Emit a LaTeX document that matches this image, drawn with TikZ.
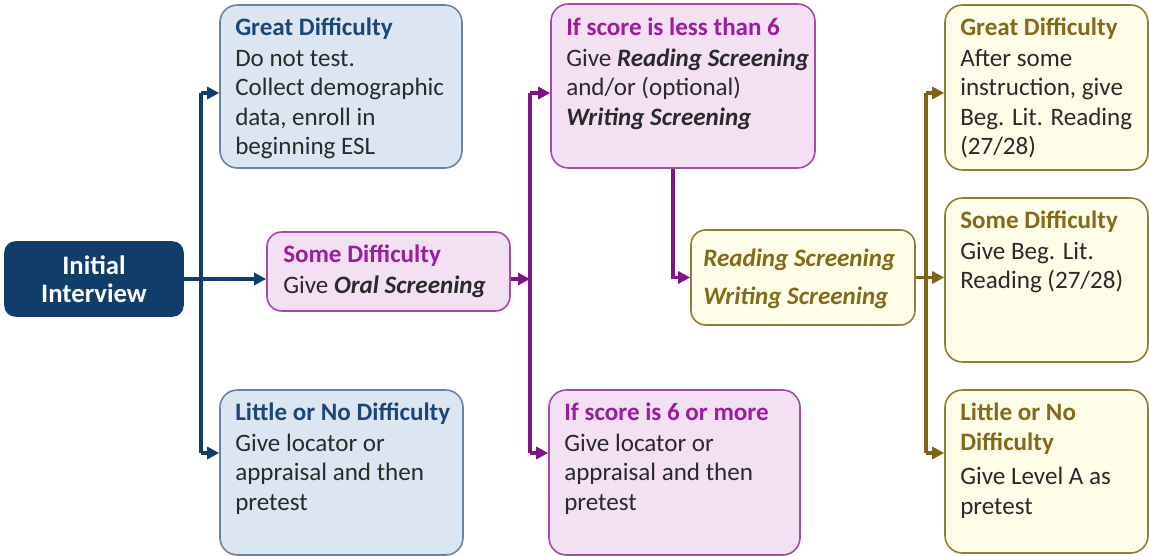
\documentclass[tikz,border=0pt]{standalone}
\usepackage{fontspec}
\setmainfont{Carlito}
\usetikzlibrary{arrows.meta,calc}
\definecolor{navy}{HTML}{113D6B}
\definecolor{navyhd}{HTML}{1B4677}
\definecolor{bluefill}{HTML}{DCE6F2}
\definecolor{blueborder}{HTML}{6A83A0}
\definecolor{pinkfill}{HTML}{F3E0F3}
\definecolor{pinkborder}{HTML}{A24BA8}
\definecolor{pinkhd}{HTML}{9C1C9E}
\definecolor{purplearr}{HTML}{7E1485}
\definecolor{yelfill}{HTML}{FFFDE8}
\definecolor{yelborder}{HTML}{8F7D3A}
\definecolor{olivehd}{HTML}{85691A}
\definecolor{olivearr}{HTML}{7F6414}
\definecolor{bodytext}{HTML}{2A2A2A}
\newcommand{\bi}[1]{\textbf{\textit{#1}}}
\begin{document}
\begin{tikzpicture}[x=0.75pt,y=-0.75pt,
  boxbase/.style={draw, rounded corners=13pt, line width=1.2pt, inner sep=0pt},
  bluebox/.style={boxbase, fill=bluefill, draw=blueborder},
  pinkbox/.style={boxbase, fill=pinkfill, draw=pinkborder},
  yelbox/.style={boxbase, fill=yelfill, draw=yelborder},
  txt/.style={anchor=north west, inner sep=0pt, align=left, text=bodytext,
    font=\fontsize{18.8}{22}\selectfont},
  conn/.style={line width=2.6pt},
  tip/.style={-{Triangle[length=9pt,width=9pt]}},
  navyl/.style={conn, draw=navy},
  purpl/.style={conn, draw=purplearr},
  olivel/.style={conn, draw=olivearr}
]
\useasboundingbox (0,0) rectangle (1149,556);

% boxes
\node[boxbase, fill=navy, draw=navy, rounded corners=8pt, minimum width=178*0.75pt, minimum height=74*0.75pt,
  text=white, align=center, font=\fontsize{20}{21}\selectfont\bfseries] (init) at (94,279) {Initial\\Interview};
\node[bluebox, minimum width=242*0.75pt, minimum height=163*0.75pt] (bg) at (341,86.5) {};
\node[pinkbox, rounded corners=11pt, minimum width=243*0.75pt, minimum height=79*0.75pt] (sd) at (388.5,271.5) {};
\node[bluebox, minimum width=243*0.75pt, minimum height=165*0.75pt] (bl) at (341.5,472.5) {};
\node[pinkbox, minimum width=264*0.75pt, minimum height=164*0.75pt] (p1) at (683,86) {};
\node[yelbox, rounded corners=11pt, minimum width=224*0.75pt, minimum height=95*0.75pt] (rw) at (803,277.5) {};
\node[pinkbox, minimum width=251*0.75pt, minimum height=165*0.75pt] (p2) at (674.5,472.5) {};
\node[yelbox, minimum width=203*0.75pt, minimum height=165*0.75pt] (yg) at (1046.5,87.5) {};
\node[yelbox, minimum width=203*0.75pt, minimum height=164*0.75pt] (ys) at (1046.5,280) {};
\node[yelbox, minimum width=203*0.75pt, minimum height=163*0.75pt] (yl) at (1046.5,471.5) {};

% texts
\node[txt] (tbg) at (235,18) {\textbf{\color{navyhd}Great Difficulty}\\[1pt]Do not test.\\Collect demographic\\data, enroll in\\beginning ESL};
\node[txt] (tsd) at (283,245) {\textbf{\color{pinkhd}Some Difficulty}\\[1pt]Give \bi{Oral Screening}};
\node[txt] (tbl) at (235,403) {\textbf{\color{navyhd}Little or No Difficulty}\\[1pt]Give locator or\\appraisal and then\\pretest};
\node[txt] (tp1) at (566,18) {\textbf{\color{pinkhd}If score is less than 6}\\[1pt]Give \bi{Reading Screening}\\and/or (optional)\\\bi{Writing Screening}};
\node[txt, text=olivehd, font=\fontsize{18.8}{28}\selectfont\bfseries\itshape] (trw) at (703,249) {Reading Screening\\Writing Screening};
\node[txt] (tp2) at (564,403) {\textbf{\color{pinkhd}If score is 6 or more}\\[1pt]Give locator or\\appraisal and then\\pretest};
\node[txt] (tyg) at (960,18) {\textbf{\color{olivehd}Great Difficulty}\\[1pt]After some\\instruction, give\\Beg. Lit. Reading\\(27/28)};
\node[txt] (tys) at (960,211) {\textbf{\color{olivehd}Some Difficulty}\\[1pt]Give Beg. Lit.\\Reading (27/28)};
\node[txt] (tyl) at (960,403) {\textbf{\color{olivehd}Little or No}\\\textbf{\color{olivehd}Difficulty}\\[4pt]Give Level A as\\pretest};

% rows and junctions
\coordinate (r1) at (0,93);
\coordinate (r3) at (0,453);
\coordinate (nv) at (201,279);
\coordinate (pv) at (530,279);
\coordinate (pd) at (673,0);
\coordinate (ov) at (926,279);

% navy connectors
\draw[navyl,tip] (init.east) -- (sd.west |- init.east);
\draw[navyl] (nv |- r1) -- (nv |- r3);
\draw[navyl,tip] (nv |- r1) -- (bg.west |- r1);
\draw[navyl,tip] (nv |- r3) -- (bl.west |- r3);

% purple connectors
\draw[purpl,tip] (sd.east |- pv) -- (pv);
\draw[purpl] (pv |- r1) -- (pv |- r3);
\draw[purpl,tip] (pv |- r1) -- (p1.west |- r1);
\draw[purpl,tip] (pv |- r3) -- (p2.west |- r3);
\draw[purpl,tip] (pd |- p1.south) |- (rw.west);

% olive connectors
\draw[olivel,tip] (rw.east) -- (ys.west |- rw.east);
\draw[olivel] (ov |- r1) -- (ov |- r3);
\draw[olivel,tip] (ov |- r1) -- (yg.west |- r1);
\draw[olivel,tip] (ov |- r3) -- (yl.west |- r3);
\end{tikzpicture}
\end{document}
